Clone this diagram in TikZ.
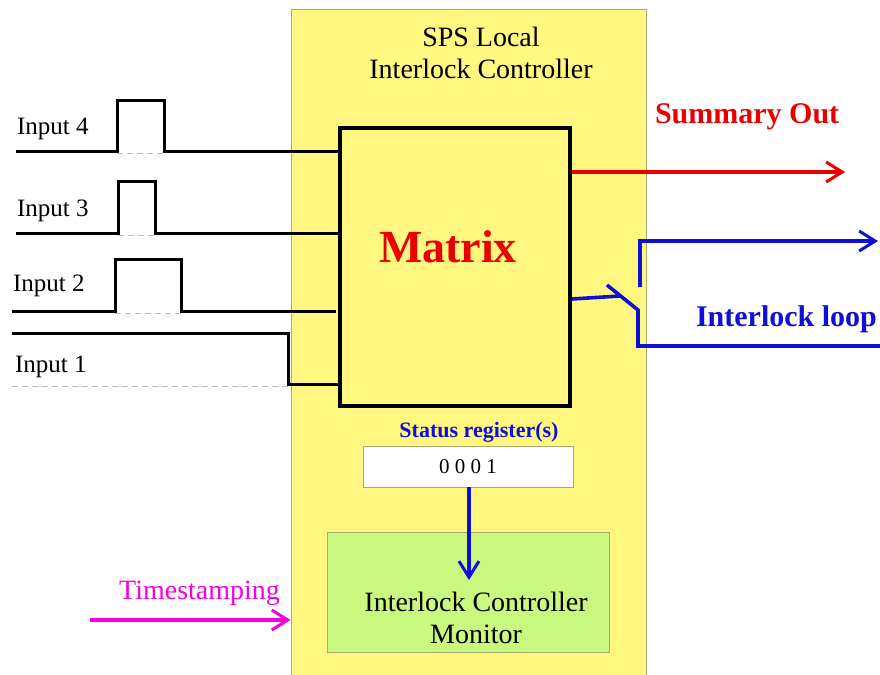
\documentclass[tikz,border=0pt]{standalone}
\usepackage{fontspec}
\setmainfont{Liberation Serif}
\usetikzlibrary{arrows.meta}
\definecolor{slcyellow}{RGB}{255,247,128}
\definecolor{slcedge}{RGB}{170,170,110}
\definecolor{monigreen}{RGB}{200,248,125}
\definecolor{loopblue}{RGB}{15,15,215}
\definecolor{sumred}{RGB}{235,0,0}
\definecolor{tsmagenta}{RGB}{245,0,225}
\tikzset{
  signal/.style={line width=1.5pt},
  ghost/.style={densely dashed, gray!50, line width=0.4pt},
  inlabel/.style={font=\fontsize{12.5}{14}\selectfont, anchor=west},
  tip/.style={-{Straight Barb[length=8pt,width=10pt,line width=1.5pt]}}
}
\begin{document}
\begin{tikzpicture}[x=0.5pt,y=-0.5pt]
\useasboundingbox (0,0) rectangle (880,675);
% controller box
\node[draw=slcedge, fill=slcyellow, minimum width=177.5pt, minimum height=335pt, inner sep=0pt] (slc) at (468.5,344) {};
\node[align=center, font=\fontsize{14}{16}\selectfont] (title) at (481,53) {SPS Local\\Interlock Controller};
\node[draw, line width=2pt, minimum width=115pt, minimum height=139pt, inner sep=0pt] (mtx) at (455,267) {};
\node[text=sumred, font=\bfseries\fontsize{23}{26}\selectfont] (mtxname) at (448,247) {Matrix};
% status register and monitor
\node[text=loopblue, font=\bfseries\fontsize{11}{13}\selectfont] (stlabel) at (479,432) {Status register(s)};
\node[draw=slcedge, fill=white, minimum width=105pt, minimum height=20.5pt, inner sep=0pt, font=\fontsize{10.5}{12}\selectfont] (streg) at (468,466.5) {0 0 0 1};
\node[draw=slcedge, fill=monigreen, minimum width=141pt, minimum height=60pt, inner sep=0pt] (mon) at (468,592) {};
\node[align=center, font=\fontsize{14}{16}\selectfont] (monname) at (476,618) {Interlock Controller\\Monitor};
\draw[tip, line width=1.8pt, draw=loopblue] (streg.south -| 469,0) -- (469,580);
% inputs
\node[inlabel] (lin4) at (10,129) {Input 4};
\node[inlabel] (lin3) at (10,211) {Input 3};
\node[inlabel] (lin2) at (6,286) {Input 2};
\node[inlabel] (lin1) at (8,367) {Input 1};
\coordinate (in4) at (16,151);
\coordinate (in3) at (16,233);
\coordinate (in2) at (12,311);
\coordinate (in1) at (12,333);
\draw[ghost] (117,153) -- (164,153);
\draw[ghost] (118,235) -- (155,235);
\draw[ghost] (115,313) -- (181,313);
\draw[ghost] (12,386) -- (288,386);
\draw[signal] (in4) -- (117,151) -- (117,100) -- (164,100) -- (164,151) -- (mtx.west |- in4);
\draw[signal] (in3) -- (118,233) -- (118,181) -- (155,181) -- (155,233) -- (mtx.west |- in3);
\draw[signal] (in2) -- (115,311) -- (115,259) -- (181,259) -- (181,311) -- (336,311);
\draw[signal] (in1) -- (288,333) -- (288,384) -- (mtx.west |- 0,384);
% summary out
\node[text=sumred, font=\bfseries\fontsize{15}{17}\selectfont, anchor=west] (sumlabel) at (648,117) {Summary Out};
\coordinate (sumend) at (845,172);
\draw[tip, line width=1.6pt, draw=sumred] (mtx.east |- sumend) -- (sumend);
% interlock loop
\node[text=loopblue, font=\bfseries\fontsize{15}{17}\selectfont, anchor=west] (looplabel) at (689,319) {Interlock loop};
\coordinate (blade) at (607,285);
\coordinate (pivot) at (638,310);
\coordinate (loopin) at (880,346);
\coordinate (loopout) at (878,241);
\draw[line width=1.8pt, draw=loopblue] (mtx.east |- 0,299) -- (620,296);
\draw[line width=1.8pt, draw=loopblue] (blade) -- (pivot) -- (pivot |- loopin) -- (loopin);
\draw[tip, line width=1.8pt, draw=loopblue] (640,287) -- (640,241) -- (loopout);
% timestamping
\node[text=tsmagenta, font=\fontsize{14}{16}\selectfont, anchor=east] (tslabel) at (287,593) {Timestamping};
\coordinate (tsstart) at (90,620);
\draw[tip, line width=1.8pt, draw=tsmagenta] (tsstart) -- (slc.west |- tsstart);
\end{tikzpicture}
\end{document}
